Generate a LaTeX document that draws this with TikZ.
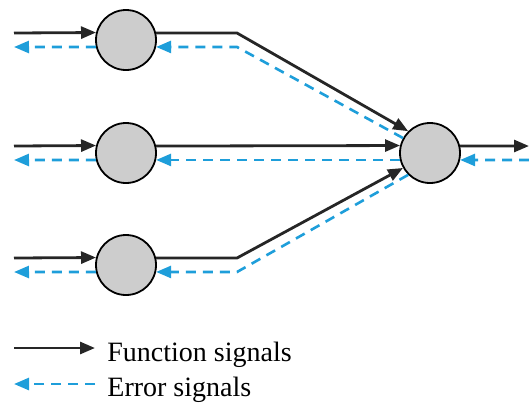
\documentclass[tikz,border=0pt]{standalone}
\usepackage{fontspec}
\setmainfont{Liberation Serif}
\usetikzlibrary{arrows.meta}
\definecolor{errblue}{RGB}{30,158,218}
\definecolor{nodegray}{RGB}{205,205,205}
\begin{document}
\begin{tikzpicture}[x=0.5pt,y=-0.5pt,
  neuron/.style={draw, circle, fill=nodegray, line width=0.9pt, minimum size=30pt, inner sep=0pt},
  func/.style={draw, line width=1.4pt, black!85, -{Triangle[length=7.5pt,width=6pt]}},
  err/.style={draw, line width=1.3pt, errblue, dash pattern=on 5pt off 3.5pt, -{Triangle[length=7.5pt,width=6pt]}}]
\useasboundingbox (0,0) rectangle (529,403);

\node[neuron] (n1) at (126,40) {};
\node[neuron] (n2) at (126,153) {};
\node[neuron] (n3) at (126,265) {};
\node[neuron] (out) at (430,153) {};

\coordinate (a1) at (14,33);
\coordinate (a2) at (14,146);
\coordinate (a3) at (14,258);
\coordinate (r1) at (14,47);
\coordinate (r2) at (14,160);
\coordinate (r3) at (14,272);
\coordinate (b1) at (237,33);
\coordinate (c1) at (237,47);
\coordinate (b3) at (237,258);
\coordinate (c3) at (237,272);
\coordinate (y1) at (529,146);
\coordinate (y2) at (529,160);

% function signals
\path[func] (a1) -- (n1.166.5);
\path[func] (a2) -- (n2.166.5);
\path[func] (a3) -- (n3.166.5);
\path[func] (n1.13.5) -- (b1) -- (out.135);
\path[func] (n2.13.5) -- (out.166.5);
\path[func] (n3.13.5) -- (b3) -- (out.209);
\path[func] (out.13.5) -- (y1);

% error signals
\path[err] (n1.193.5) -- (r1);
\path[err] (n2.193.5) -- (r2);
\path[err] (n3.193.5) -- (r3);
\path[err] (out.151) -- (c1) -- (n1.-13.5);
\path[err] (out.193.5) -- (n2.-13.5);
\path[err] (out.225) -- (c3) -- (n3.-13.5);
\path[err] (y2) -- (out.-13.5);

% legend
\coordinate (f0) at (14,348);
\coordinate (f1) at (95,348);
\coordinate (e0) at (14,384);
\coordinate (e1) at (95,384);
\path[func] (f0) -- (f1);
\path[err] (e1) -- (e0);
\node[anchor=base west, font=\fontsize{14}{16}\selectfont, inner sep=0pt] (flbl) at (107,361) {Function signals};
\node[anchor=base west, font=\fontsize{14}{16}\selectfont, inner sep=0pt] (elbl) at (107,396) {Error signals};
\end{tikzpicture}
\end{document}
